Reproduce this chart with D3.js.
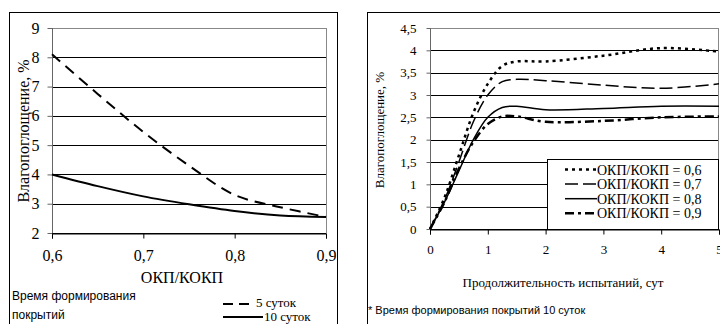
<!DOCTYPE html>
<html lang="ru">
<head>
<meta charset="utf-8">
<script src="https://cdn.jsdelivr.net/npm/d3@7/dist/d3.min.js"></script>
<style>
  body { margin:0; background:#fff; }
  svg { display:block; }
</style>
</head>
<body>
<script>
// left chart: moisture absorption vs OKP/KOKP ratio
var ratio = [0.6, 0.65, 0.7, 0.75, 0.8, 0.85, 0.9];
var days5 = [8.1, 6.75, 5.45, 4.3, 3.3, 2.88, 2.55];
var days10 = [4.0, 3.6, 3.25, 2.98, 2.75, 2.6, 2.55];
var leftXTicks = [0.6, 0.7, 0.8, 0.9];
var leftYTicks = [2, 3, 4, 5, 6, 7, 8, 9];

// right chart: moisture absorption vs test duration
var days = [0, 0.25, 0.5, 0.75, 1, 1.25, 1.5, 2, 3, 4, 5];
var r06 = [0, 0.7, 1.65, 2.6, 3.25, 3.65, 3.75, 3.75, 3.88, 4.05, 3.97];
var r07 = [0, 0.65, 1.5, 2.4, 3.0, 3.3, 3.35, 3.32, 3.22, 3.15, 3.25];
var r08 = [0, 0.6, 1.3, 2.0, 2.5, 2.72, 2.75, 2.67, 2.7, 2.75, 2.75];
var r09 = [0, 0.6, 1.35, 1.95, 2.35, 2.52, 2.52, 2.4, 2.42, 2.5, 2.52];
var rightXTicks = [0, 1, 2, 3, 4, 5];
var rightYTicks = [0, 0.5, 1, 1.5, 2, 2.5, 3, 3.5, 4, 4.5];
var seriesNames = ["ОКП/КОКП = 0,6", "ОКП/КОКП = 0,7", "ОКП/КОКП = 0,8", "ОКП/КОКП = 0,9"];

var SERIF = "'Liberation Serif', 'Times New Roman', serif";
var SANS = "'Liberation Sans', Arial, sans-serif";
var fmt = function(v){ return String(v).replace(".", ","); };

var svg = d3.select("body").append("svg")
  .attr("width", 720).attr("height", 324);

function label(g, x, y, txt, fam, size, anchor, rot) {
  var t = g.append("text").style("font-family", fam).style("font-size", size + "px")
    .attr("fill", "#000").attr("text-anchor", anchor || "start").text(txt);
  if (rot) t.attr("transform", "translate(" + x + "," + y + ") rotate(-90)");
  else t.attr("x", x).attr("y", y);
  return t;
}

// ---------- left panel ----------
svg.append("rect").attr("x", 9.5).attr("y", 12.5).attr("width", 328).attr("height", 320)
  .attr("fill", "none").attr("stroke", "#000").attr("stroke-width", 1);

var lx = d3.scaleLinear().domain([0.6, 0.9]).range([52, 326]);
var ly = d3.scaleLinear().domain([2, 9]).range([233, 28]);

var gl = svg.append("g");
gl.selectAll("line.grid").data(leftYTicks).enter().append("line")
  .attr("x1", lx(0.6)).attr("x2", lx(0.9))
  .attr("y1", function(d){ return Math.round(ly(d)) + 0.5; })
  .attr("y2", function(d){ return Math.round(ly(d)) + 0.5; })
  .attr("stroke", function(d){ return d == 9 ? "#888" : "#000"; })
  .attr("stroke-width", 1);
// plot borders
gl.append("line").attr("x1", 326.5).attr("x2", 326.5).attr("y1", ly(9)).attr("y2", ly(2))
  .attr("stroke", "#888");
gl.append("line").attr("x1", 52.5).attr("x2", 52.5).attr("y1", ly(9)).attr("y2", ly(2))
  .attr("stroke", "#666");

var lyAxis = gl.append("g").attr("transform", "translate(52.5,0)")
  .call(d3.axisLeft(ly).tickValues(leftYTicks).tickSize(5).tickFormat(fmt));
lyAxis.select(".domain").remove();
lyAxis.selectAll("line").attr("stroke", "#666");
lyAxis.selectAll("text").style("font-family", SERIF).attr("fill", "#000")
  .style("font-size", "16px").attr("x", -13);

var lxAxis = gl.append("g").attr("transform", "translate(0," + (Math.round(ly(2)) + 0.5) + ")")
  .call(d3.axisBottom(lx).tickValues(leftXTicks).tickSize(5).tickFormat(fmt));
lxAxis.select(".domain").attr("stroke", "#000");
lxAxis.selectAll("line").attr("stroke", "#000");
lxAxis.selectAll("text").style("font-family", SERIF).attr("fill", "#000")
  .style("font-size", "16px").attr("y", 11).attr("dy", "1.05em");

var lline = d3.line().curve(d3.curveCatmullRom)
  .x(function(d, i){ return lx(ratio[i]); })
  .y(function(d){ return ly(d); });

gl.append("path").datum(days5).attr("d", lline)
  .attr("fill", "none").attr("stroke", "#000").attr("stroke-width", 2)
  .attr("stroke-dasharray", "11,7");
gl.append("path").datum(days10).attr("d", lline)
  .attr("fill", "none").attr("stroke", "#000").attr("stroke-width", 2);

label(gl, 182, 283, "ОКП/КОКП", SERIF, 16, "middle");
label(gl, 29, 131, "Влагопоглощение, %", SERIF, 16, "middle", true);
label(gl, 12, 300, "Время формирования", SANS, 12);
label(gl, 12, 319, "покрытий", SANS, 12);

gl.append("line").attr("x1", 223).attr("x2", 253).attr("y1", 304).attr("y2", 304)
  .attr("stroke", "#000").attr("stroke-width", 2).attr("stroke-dasharray", "10,6");
label(gl, 256, 307, "5 суток", SERIF, 13);
gl.append("line").attr("x1", 223).attr("x2", 263).attr("y1", 317).attr("y2", 317)
  .attr("stroke", "#000").attr("stroke-width", 2);
label(gl, 264, 321, "10 суток", SERIF, 13);

// ---------- right panel ----------
svg.append("rect").attr("x", 367.5).attr("y", 12.5).attr("width", 360).attr("height", 320)
  .attr("fill", "none").attr("stroke", "#000").attr("stroke-width", 1);

var rx = d3.scaleLinear().domain([0, 5]).range([430, 719]);
var ry = d3.scaleLinear().domain([0, 4.5]).range([229, 28]);

var gr = svg.append("g");
gr.selectAll("line.grid").data(rightYTicks).enter().append("line")
  .attr("x1", rx(0)).attr("x2", rx(5))
  .attr("y1", function(d){ return Math.round(ry(d)) + 0.5; })
  .attr("y2", function(d){ return Math.round(ry(d)) + 0.5; })
  .attr("stroke", function(d){ return d == 4.5 ? "#888" : "#000"; })
  .attr("stroke-width", 1);
gr.append("line").attr("x1", 718.5).attr("x2", 718.5).attr("y1", ry(4.5)).attr("y2", ry(0))
  .attr("stroke", "#888");
gr.append("line").attr("x1", 430.5).attr("x2", 430.5).attr("y1", ry(4.5)).attr("y2", ry(0))
  .attr("stroke", "#666");

var ryAxis = gr.append("g").attr("transform", "translate(430.5,0)")
  .call(d3.axisLeft(ry).tickValues(rightYTicks).tickSize(4).tickFormat(fmt));
ryAxis.select(".domain").remove();
ryAxis.selectAll("line").attr("stroke", "#666");
ryAxis.selectAll("text").style("font-family", SERIF).attr("fill", "#000")
  .style("font-size", "13px").attr("x", -14);

var rxAxis = gr.append("g").attr("transform", "translate(0," + (Math.round(ry(0)) + 0.5) + ")")
  .call(d3.axisBottom(rx).tickValues(rightXTicks).tickSize(5).tickFormat(fmt));
rxAxis.select(".domain").attr("stroke", "#000");
rxAxis.selectAll("line").attr("stroke", "#000");
rxAxis.selectAll("text").style("font-family", SERIF).attr("fill", "#000")
  .style("font-size", "13px").attr("y", 11).attr("dy", "1em");

var rline = d3.line().curve(d3.curveCatmullRom)
  .x(function(d, i){ return rx(days[i]); })
  .y(function(d){ return ry(d); });

var styles = [
  { data: r06, w: 2.5, dash: "3,4" },
  { data: r07, w: 1.5, dash: "13,5" },
  { data: r08, w: 1.5, dash: null },
  { data: r09, w: 2.5, dash: "9,4,3,4" }
];
styles.forEach(function(s){
  gr.append("path").datum(s.data).attr("d", rline)
    .attr("fill", "none").attr("stroke", "#000").attr("stroke-width", s.w)
    .attr("stroke-dasharray", s.dash);
});

// legend
gr.append("rect").attr("x", 547.5).attr("y", 159.5).attr("width", 171).attr("height", 70)
  .attr("fill", "#fff").attr("stroke", "#000");
styles.forEach(function(s, i){
  var y = 169.5 + i * 14.6;
  gr.append("line").attr("x1", 565).attr("x2", 597).attr("y1", y).attr("y2", y)
    .attr("stroke", "#000").attr("stroke-width", s.w).attr("stroke-dasharray", s.dash);
  label(gr, 597, y + 5, seriesNames[i], SERIF, 14);
});

label(gr, 563, 287, "Продолжительность испытаний, сут", SERIF, 13, "middle");
label(gr, 384, 130, "Влагопоглощение, %", SERIF, 13, "middle", true);
label(gr, 368, 314, "* Время формирования покрытий 10 суток", SANS, 11);
</script>
</body>
</html>
